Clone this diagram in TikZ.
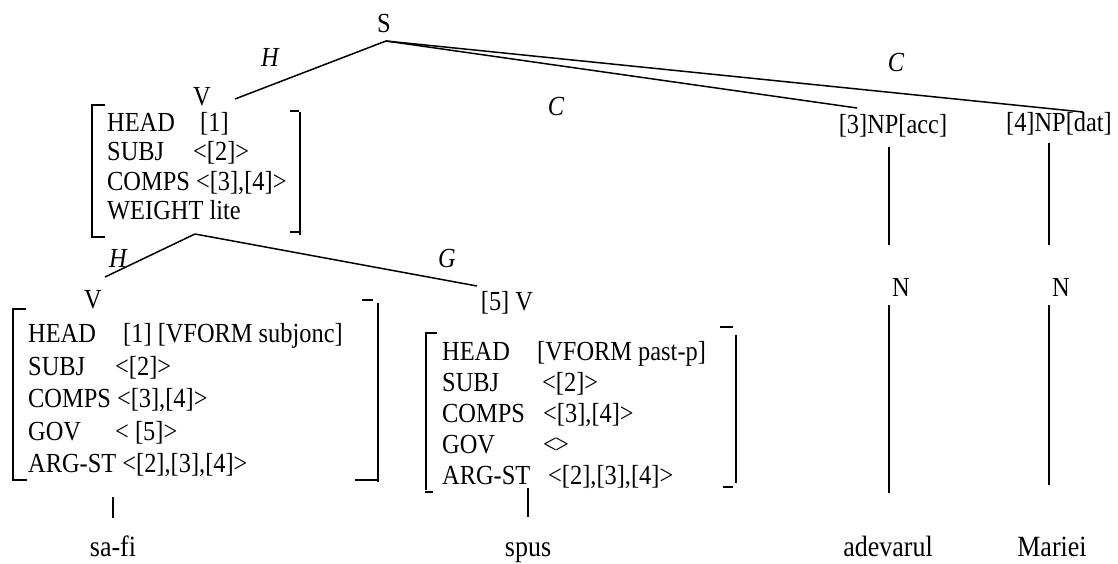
\documentclass[tikz,border=0pt]{standalone}
\usepackage{graphicx}
\usepackage{fontspec}
\setmainfont{Liberation Serif}
\newcommand{\tl}[1]{\scalebox{1}[1.13]{#1}}
\begin{document}
\begin{tikzpicture}[x=1pt,y=-1pt,
  lab/.style={inner sep=0pt,font=\fontsize{24.4}{28}\selectfont},
  row/.style={inner sep=0pt,anchor=base west,font=\fontsize{24.4}{28}\selectfont},
  word/.style={inner sep=0pt,anchor=base,font=\fontsize{26}{30}\selectfont},
  edgelab/.style={inner sep=0pt,font=\fontsize{24.4}{28}\selectfont\itshape},
  br/.style={line width=1.6pt},
  ln/.style={line width=1.5pt}]
\useasboundingbox (0,0) rectangle (1118,563);
% labels
\node[lab] (S) at (384,24) {\tl{S}};
\node[lab] (V1) at (202,97) {\tl{V}};
\node[lab] (V2) at (93,300) {\tl{V}};
\node[lab] (V5) at (507,303) {\tl{[5] V}};
\node[lab] (NP3) at (893,126) {\tl{[3]NP[acc]}};
\node[lab] (NP4) at (1059,124) {\tl{[4]NP[dat]}};
\node[lab] (N3) at (901,287) {\tl{N}};
\node[lab] (N4) at (1061,287) {\tl{N}};
\node[word] (w1) at (113,556) {\tl{sa-fi}};
\node[word] (w2) at (528,556) {\tl{spus}};
\node[word] (w3) at (888,556) {\tl{adevarul}};
\node[word] (w4) at (1052,556) {\tl{Mariei}};
% edge labels
\node[edgelab] (eH1) at (270,57) {\tl{H}};
\node[edgelab] (eC1) at (556,106) {\tl{C}};
\node[edgelab] (eC2) at (896,62) {\tl{C}};
\node[edgelab] (eH2) at (118,258) {\tl{H}};
\node[edgelab] (eG) at (447,258) {\tl{G}};
% AVM 1
\node[row] (a1r1) at (107,131) {\tl{HEAD}};
\node[row] (a1v1) at (200,131) {\tl{[1]}};
\node[row] (a1r2) at (107,160) {\tl{SUBJ}};
\node[row] (a1v2) at (193,160) {\tl{<[2]>}};
\node[row] (a1r3) at (107,190) {\tl{COMPS <[3],[4]>}};
\node[row] (a1r4) at (107,219) {\tl{WEIGHT lite}};
% AVM 2
\node[row] (a2r1) at (28,342) {\tl{HEAD}};
\node[row] (a2v1) at (123,342) {\tl{[1] [VFORM subjonc]}};
\node[row] (a2r2) at (28,375) {\tl{SUBJ}};
\node[row] (a2v2) at (115,375) {\tl{<[2]>}};
\node[row] (a2r3) at (28,407) {\tl{COMPS <[3],[4]>}};
\node[row] (a2r4) at (28,440) {\tl{GOV}};
\node[row] (a2v4) at (115,440) {\tl{< [5]>}};
\node[row] (a2r5) at (28,472) {\tl{ARG-ST <[2],[3],[4]>}};
% AVM 3
\node[row] (a3r1) at (442,360) {\tl{HEAD}};
\node[row] (a3v1) at (537,360) {\tl{[VFORM past-p]}};
\node[row] (a3r2) at (442,391) {\tl{SUBJ}};
\node[row] (a3v2) at (542,391) {\tl{<[2]>}};
\node[row] (a3r3) at (442,422) {\tl{COMPS}};
\node[row] (a3v3) at (543,422) {\tl{<[3],[4]>}};
\node[row] (a3r4) at (442,453) {\tl{GOV}};
\node[row] (a3v4) at (543,453) {\tl{<\kern-0.08em>}};
\node[row] (a3r5) at (442,484) {\tl{ARG-ST}};
\node[row] (a3v5) at (548,484) {\tl{<[2],[3],[4]>}};
% brackets
\draw[br] (105,105) -- (92,105) -- (92,237) -- (105,237);
\draw[br] (300,112) -- (300,235);
\draw[br] (290,111) -- (299,111);
\draw[br] (290,232) -- (299,232);
\draw[br] (26,309) -- (13,309) -- (13,480) -- (27,480);
\draw[br] (378,303) -- (378,482);
\draw[br] (362,300) -- (373,300);
\draw[br] (355,480) -- (377,480);
\draw[br] (437,333) -- (426,333) -- (426,490);
\draw[br] (425,492) -- (433,492);
\draw[br] (736,335) -- (736,483);
\draw[br] (720,327) -- (733,327);
\draw[br] (723,487) -- (733,487);
% connector end points
\coordinate (Sb) at (386,41);
\coordinate (V1t) at (235,99);
\coordinate (NP3t) at (857,108);
\coordinate (NP4t) at (1083,112);
\coordinate (A1b) at (195,234);
\coordinate (V2t) at (105,277);
\coordinate (V5t) at (477,286);
\coordinate (NP3b) at (889,147);
\coordinate (N3t) at (889,245);
\coordinate (NP4b) at (1049,143);
\coordinate (N4t) at (1049,245);
\coordinate (N3b) at (889,305);
\coordinate (w3t) at (889,493);
\coordinate (N4b) at (1049,305);
\coordinate (w4t) at (1049,485);
\coordinate (A2b) at (113,497);
\coordinate (w1t) at (113,518);
\coordinate (A3b) at (528,488);
\coordinate (w2t) at (528,517);
% connectors
\draw[ln] (Sb) -- (V1t);
\draw[ln] (Sb) -- (NP3t);
\draw[ln] (Sb) -- (NP4t);
\draw[ln] (A1b) -- (V2t);
\draw[ln] (A1b) -- (V5t);
\draw[ln] (NP3b) -- (N3t);
\draw[ln] (NP4b) -- (N4t);
\draw[ln] (N3b) -- (w3t);
\draw[ln] (N4b) -- (w4t);
\draw[ln] (A2b) -- (w1t);
\draw[ln] (A3b) -- (w2t);
\end{tikzpicture}
\end{document}
